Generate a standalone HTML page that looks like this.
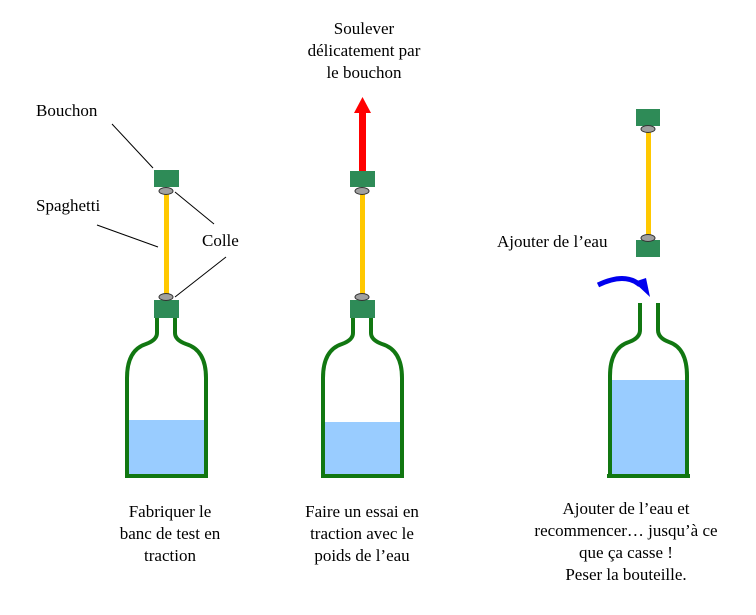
<!DOCTYPE html>
<html><head><meta charset="utf-8"><style>
html,body{margin:0;padding:0;background:#fff;width:756px;height:615px;overflow:hidden}
svg{display:block}
text{font-family:"Liberation Serif",serif;font-size:17px;fill:#000}
</style></head><body>
<svg width="756" height="615" viewBox="0 0 756 615" xmlns="http://www.w3.org/2000/svg">
<!-- Bottle 1 -->
<rect x="127" y="420" width="79" height="56" fill="#99ccff"/>
<path d="M157,318 L157,333 Q157,340 146,344 Q127,350 127,378 L127,476 M175,318 L175,333 Q175,340 186,344 Q206,350 206,378 L206,476 M125,476 L208,476" fill="none" stroke="#117711" stroke-width="4"/>
<rect x="154" y="300" width="25" height="18" fill="#2e8b57"/>
<rect x="164" y="191" width="5" height="106" fill="#ffc800"/>
<rect x="154" y="170" width="25" height="17" fill="#2e8b57"/>
<ellipse cx="166" cy="191" rx="7" ry="3.5" fill="#a0a0a0" stroke="#333" stroke-width="1"/>
<ellipse cx="166" cy="297" rx="7" ry="3.5" fill="#a0a0a0" stroke="#333" stroke-width="1"/>
<line x1="112" y1="124" x2="153" y2="168" stroke="#000" stroke-width="1"/>
<line x1="97" y1="225" x2="158" y2="247" stroke="#000" stroke-width="1"/>
<line x1="175" y1="192" x2="214" y2="224" stroke="#000" stroke-width="1"/>
<line x1="175" y1="297" x2="226" y2="257" stroke="#000" stroke-width="1"/>
<text x="36" y="116">Bouchon</text>
<text x="36" y="211">Spaghetti</text>
<text x="202" y="246">Colle</text>
<text x="170" y="517" text-anchor="middle">Fabriquer le</text>
<text x="170" y="539" text-anchor="middle">banc de test en</text>
<text x="170" y="561" text-anchor="middle">traction</text>

<!-- Bottle 2 -->
<rect x="323" y="422" width="79" height="54" fill="#99ccff"/>
<path d="M353,318 L353,333 Q353,340 342,344 Q323,350 323,378 L323,476 M371,318 L371,333 Q371,340 382,344 Q402,350 402,378 L402,476 M321,476 L404,476" fill="none" stroke="#117711" stroke-width="4"/>
<rect x="350" y="300" width="25" height="18" fill="#2e8b57"/>
<rect x="360" y="191" width="5" height="106" fill="#ffc800"/>
<rect x="359" y="111" width="7" height="60" fill="#ff0000"/>
<polygon points="362.5,97 371,113 354,113" fill="#ff0000"/>
<rect x="350" y="171" width="25" height="16" fill="#2e8b57"/>
<ellipse cx="362" cy="191" rx="7" ry="3.5" fill="#a0a0a0" stroke="#333" stroke-width="1"/>
<ellipse cx="362" cy="297" rx="7" ry="3.5" fill="#a0a0a0" stroke="#333" stroke-width="1"/>
<text x="364" y="34" text-anchor="middle">Soulever</text>
<text x="364" y="56" text-anchor="middle">délicatement par</text>
<text x="364" y="78" text-anchor="middle">le bouchon</text>
<text x="362" y="517" text-anchor="middle">Faire un essai en</text>
<text x="362" y="539" text-anchor="middle">traction avec le</text>
<text x="362" y="561" text-anchor="middle">poids de l’eau</text>

<!-- Bottle 3 -->
<rect x="610" y="380" width="76" height="96" fill="#99ccff"/>
<path d="M640,303 L640,330 Q640,338 629,342 Q610,348 610,376 L610,476 M658,303 L658,330 Q658,338 669,342 Q687,348 687,376 L687,476 M607,476 L690,476" fill="none" stroke="#117711" stroke-width="4"/>
<rect x="646" y="130" width="5" height="108" fill="#ffc800"/>
<rect x="636" y="109" width="24" height="17" fill="#2e8b57"/>
<rect x="636" y="240" width="24" height="17" fill="#2e8b57"/>
<ellipse cx="648" cy="129" rx="7" ry="3.5" fill="#a0a0a0" stroke="#333" stroke-width="1"/>
<ellipse cx="648" cy="238" rx="7" ry="3.5" fill="#a0a0a0" stroke="#333" stroke-width="1"/>
<path d="M598,285 Q625,272 640,285" fill="none" stroke="#0000ee" stroke-width="5"/>
<polygon points="634,282 646,278 650,297" fill="#0000ee"/>
<text x="497" y="247">Ajouter de l’eau</text>
<text x="626" y="514" text-anchor="middle">Ajouter de l’eau et</text>
<text x="626" y="536" text-anchor="middle">recommencer… jusqu’à ce</text>
<text x="626" y="558" text-anchor="middle">que ça casse !</text>
<text x="626" y="580" text-anchor="middle">Peser la bouteille.</text>
</svg>
</body></html>
